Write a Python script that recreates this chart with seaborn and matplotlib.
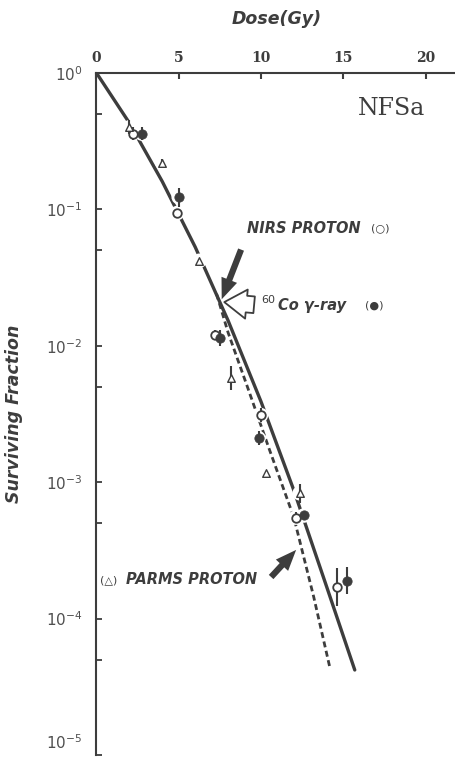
#!/usr/bin/env python3
"""
Surviving fraction of NFSa cells vs dose: NIRS proton, 60Co gamma-ray, PARMS proton.
"""
import numpy as np
import matplotlib
matplotlib.use('Agg')
import matplotlib.pyplot as plt
from matplotlib.ticker import LogLocator, NullFormatter, FixedLocator, FuncFormatter
from matplotlib.patches import FancyArrowPatch
import seaborn as sns

# fitted curves (dose in Gy, surviving fraction)
SOLID_DOSE = [0, 2, 4, 6, 8, 10, 12, 14, 15.7]
SOLID_SF = [1.0, 0.43, 0.16, 0.053, 0.0153, 0.0039, 8.7e-4, 1.7e-4, 4.2e-5]

DASH_DOSE = [7.3, 8.0, 9.2, 10.5, 12.0, 13.2, 14.2]
DASH_SF = [0.024, 0.0125, 4.9e-3, 1.75e-3, 5.5e-4, 1.45e-4, 4.3e-5]

# measured points; error bars are half-lengths in decades
NIRS_DOSE = [2.2, 4.9, 7.2, 10.0, 12.1, 14.65]
NIRS_SF = [0.36, 0.094, 0.012, 0.0031, 5.5e-4, 1.7e-4]
NIRS_ERR = [0.05, 0.0, 0.04, 0.05, 0.04, 0.14]

CO_DOSE = [2.75, 5.0, 7.5, 9.85, 12.6, 15.2]
CO_SF = [0.36, 0.123, 0.0114, 2.1e-3, 5.7e-4, 1.9e-4]
CO_ERR = [0.05, 0.07, 0.06, 0.05, 0.0, 0.10]

PARMS_DOSE = [2.0, 4.0, 6.25, 8.2, 10.3, 12.35]
PARMS_SF = [0.40, 0.22, 0.042, 5.8e-3, 1.17e-3, 8.3e-4]
PARMS_ERR = [0.05, 0.03, 0.0, 0.09, 0.0, 0.07]

X_TICKS = [0, 5, 10, 15, 20]

INK = '#3d3d3d'
LABEL_FONT = dict(family='DejaVu Sans', weight='bold', style='italic', color=INK)

sns.set_style('ticks')
plt.rcParams['font.family'] = ['DejaVu Sans']
plt.rcParams['lines.scale_dashes'] = False

fig = plt.figure(figsize=(4.56, 7.64), dpi=100)
ax = fig.add_axes([96.5 / 456, 9 / 764, 1 - 96.5 / 456, 682 / 764])

# curves
sns.lineplot(x=SOLID_DOSE, y=SOLID_SF, ax=ax, color=INK, lw=2.4,
             estimator=None, sort=False, zorder=2)
sns.lineplot(x=DASH_DOSE, y=DASH_SF, ax=ax, color=INK, lw=2.0,
             estimator=None, sort=False, zorder=2, linestyle='--')
ax.lines[-1].set_dashes((4.3, 2.6))

# white halo under the markers, so the lines break around them
all_dose = NIRS_DOSE + CO_DOSE + PARMS_DOSE
all_sf = NIRS_SF + CO_SF + PARMS_SF
sns.scatterplot(x=all_dose, y=all_sf, ax=ax, s=110, color='white',
                edgecolor='none', zorder=3, legend=False)

for dose, sf, err in [(NIRS_DOSE, NIRS_SF, NIRS_ERR),
                      (CO_DOSE, CO_SF, CO_ERR),
                      (PARMS_DOSE, PARMS_SF, PARMS_ERR)]:
    sf = np.array(sf)
    err = np.array(err)
    ax.vlines(dose, sf * 10 ** -err, sf * 10 ** err, color=INK, lw=1.5, zorder=4)

sns.scatterplot(x=NIRS_DOSE, y=NIRS_SF, ax=ax, marker='o', s=38,
                facecolor='white', edgecolor=INK, linewidth=1.3, zorder=5)
sns.scatterplot(x=CO_DOSE, y=CO_SF, ax=ax, marker='o', s=45,
                color=INK, edgecolor=INK, zorder=5)
sns.scatterplot(x=PARMS_DOSE, y=PARMS_SF, ax=ax, marker='^', s=30,
                facecolor='white', edgecolor=INK, linewidth=1.0, zorder=5)

# axes
ax.set_yscale('log')
ax.set_xlim(0, (456 - 96.5) / 16.45)
ax.set_ylim(1e-5, 1)
ax.xaxis.tick_top()
ax.xaxis.set_label_position('top')
ax.xaxis.set_major_locator(FixedLocator(X_TICKS))
ax.yaxis.set_major_locator(LogLocator(base=10, numticks=10))
ax.yaxis.set_minor_locator(LogLocator(base=10, subs=[5], numticks=10))
ax.yaxis.set_minor_formatter(NullFormatter())


def decade_label(v, pos):
    # the lowest label sits a little above its tick, as in the original
    if v < 2e-5:
        return ''
    return r'$\mathdefault{10^{%d}}$' % int(round(np.log10(v)))


ax.yaxis.set_major_formatter(FuncFormatter(decade_label))
ax.annotate(r'$\mathdefault{10^{-5}}$', xy=(0, 1e-5), xycoords=('axes fraction', 'data'),
            xytext=(-10, 9), textcoords='offset points', ha='right', va='center',
            fontsize=11, color='#505050')

for side in ['right', 'bottom']:
    ax.spines[side].set_visible(False)
for side in ['top', 'left']:
    ax.spines[side].set_color(INK)
    ax.spines[side].set_linewidth(1.5)

ax.tick_params(axis='x', which='major', direction='in', length=4, width=1.5,
               color=INK, pad=6, labelsize=10, labelcolor=INK)
ax.tick_params(axis='y', which='both', direction='in', length=4.5, width=1.3,
               color=INK, pad=10, labelsize=11, labelcolor='#505050')
for lbl in ax.get_xticklabels():
    lbl.set_family('DejaVu Serif')
    lbl.set_weight('bold')

ax.set_xlabel('Dose(Gy)', fontsize=12.5, labelpad=19, **LABEL_FONT)
ax.set_ylabel('Surviving Fraction', fontsize=12.5, labelpad=14, **LABEL_FONT)
ax.yaxis.set_label_coords(-0.205, 0.5)

ax.text(20.0, 0.55, 'NFSa', family='DejaVu Serif', fontsize=17, color=INK,
        ha='right', va='center')

# annotations
ax.text(9.15, 0.073, 'NIRS PROTON', fontsize=10.5, va='center', **LABEL_FONT)
ax.text(16.7, 0.073, '(○)', fontsize=8, va='center', color=INK)
ax.text(10.0, 0.0199, '60', fontsize=8, va='bottom', color=INK)
ax.text(11.05, 0.0199, 'Co γ-ray', fontsize=10.5, va='center', **LABEL_FONT)
ax.text(16.3, 0.0199, '(●)', fontsize=8, va='center', color=INK)
ax.text(0.2, 1.92e-4, '(△)', fontsize=8, va='center', color=INK)
ax.text(1.8, 1.92e-4, 'PARMS PROTON', fontsize=10.5, va='center', **LABEL_FONT)

solid_arrow = 'simple,head_length=1.5,head_width=1.2,tail_width=0.45'
ax.add_patch(FancyArrowPatch((8.85, 0.053), (7.55, 0.021), arrowstyle=solid_arrow,
                             mutation_scale=10, color=INK, lw=0, zorder=6))
ax.add_patch(FancyArrowPatch((10.5, 1.95e-4), (12.25, 3.3e-4), arrowstyle=solid_arrow,
                             mutation_scale=10, color=INK, lw=0, zorder=6))
ax.add_patch(FancyArrowPatch((9.75, 0.0199), (7.6, 0.021),
                             arrowstyle='simple,head_length=1.6,head_width=2.1,tail_width=1.2',
                             mutation_scale=10, facecolor='white', edgecolor=INK,
                             lw=1.3, zorder=6))

fig.savefig('out.png', dpi=100)
